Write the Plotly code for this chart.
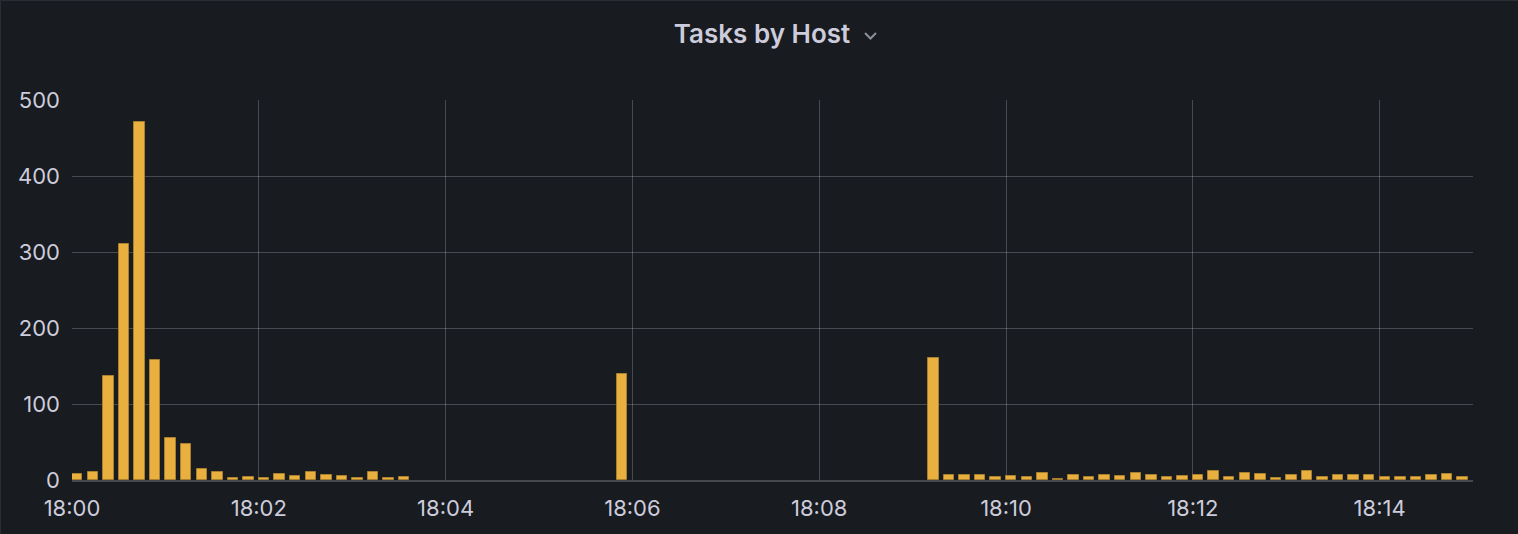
import pandas as pd
import plotly.graph_objects as go

# 10-second bins from 18:00:00 to 18:14:50
bin_start = "2024-01-01 18:00:00"
bin_end = "2024-01-01 18:15:00"
bin_count = 90
bin_times = pd.date_range(bin_start, periods=bin_count, freq="10s")

tasks = [
    8, 10, 137, 310, 471, 158, 55, 47, 14, 10, 3, 4, 2, 8, 5, 10, 6, 5, 2, 10, 3, 4,
    None, None, None, None, None, None, None, None, None, None, None, None, None,
    140,
    None, None, None, None, None, None, None, None, None, None,
    None, None, None, None, None, None, None, None, None,
    161, 6, 6, 7, 4, 5, 4, 9, 1, 7, 4, 6, 5, 9, 7, 4, 5, 7, 12, 4, 9, 8, 3, 6,
    12, 4, 6, 7, 7, 4, 4, 4, 6, 8, 4,
]

y_ticks = [0, 100, 200, 300, 400, 500]
title_text = "Tasks by Host"

BG = "#181b1f"
GRID = "rgba(204,204,220,0.27)"
TEXT = "#ccccdc"
BAR = "#eab03f"
BAR_LINE = "#a8802e"

fig = go.Figure()
fig.add_trace(go.Bar(
    x=bin_times,
    y=tasks,
    width=6700,
    offset=0,
    marker=dict(color=BAR, line=dict(color=BAR_LINE, width=1)),
    hoverinfo="x+y",
))

W, H = 1518, 534
ml, mr, mt, mb = 72, 45, 100, 54
pw = W - ml - mr
ph = H - mt - mb

def px(xp):
    return (xp - ml) / pw

def py(yp):
    return (H - mb - yp) / ph

fig.update_layout(
    width=W, height=H,
    margin=dict(l=ml, r=mr, t=mt, b=mb, pad=0),
    paper_bgcolor=BG, plot_bgcolor=BG,
    showlegend=False,
    bargap=0,
    font=dict(family="Inter, Roboto, sans-serif", color=TEXT, size=22),
    xaxis=dict(
        type="date",
        range=[bin_start, bin_end],
        tick0=bin_start, dtick=120000, tickformat="%H:%M",
        showgrid=True, gridcolor=GRID, gridwidth=1,
        showline=True, linecolor="#46484d", linewidth=2,
        zeroline=False, ticks="", ticklabelstandoff=8,
        tickfont=dict(size=22, color=TEXT),
        fixedrange=True,
    ),
    yaxis=dict(
        range=[0, 500], tickvals=y_ticks,
        showgrid=True, gridcolor=GRID, gridwidth=1,
        zeroline=False, showline=False, ticks="",
        ticklabelstandoff=11,
        tickfont=dict(size=22, color=TEXT),
        fixedrange=True,
    ),
    title=dict(
        text=title_text, xref="container", x=762 / W, xanchor="center",
        yref="container", y=1 - 34 / H, yanchor="middle",
        font=dict(size=26, color=TEXT, weight=600, family="Inter, Roboto, sans-serif"),
    ),
    shapes=[
        # chevron next to title
        dict(type="path", xref="paper", yref="paper",
             path=f"M {px(865)} {py(33)} L {px(870.5)} {py(38.5)} L {px(876)} {py(33)}",
             line=dict(color="#8e8e9c", width=2)),
        # panel border
        dict(type="rect", xref="paper", yref="paper",
             x0=px(0.5), y0=py(H + 5), x1=px(W + 5), y1=py(0.5),
             line=dict(color="#2a2d33", width=1), fillcolor="rgba(0,0,0,0)", layer="below"),
    ],
)

fig.write_html(
    "out.html",
    config={"displayModeBar": False},
    post_script="document.body.style.margin='0';document.body.style.background='#181b1f';",
)
